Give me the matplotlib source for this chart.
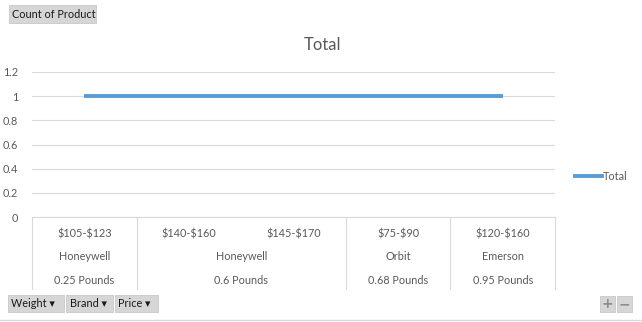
import matplotlib
matplotlib.use("Agg")
import matplotlib.pyplot as plt
from matplotlib.patches import Rectangle
from matplotlib.lines import Line2D

prices = ["$105-$123", "$140-$160", "$145-$170", "$75-$90", "$120-$160"]
brands = ["Honeywell", "Honeywell", "Honeywell", "Orbit", "Emerson"]
weights = ["0.25 Pounds", "0.6 Pounds", "0.6 Pounds", "0.68 Pounds", "0.95 Pounds"]
counts = [1, 1, 1, 1, 1]
yticks = [0, 0.2, 0.4, 0.6, 0.8, 1, 1.2]
ytick_labels = ["0", "0.2", "0.4", "0.6", "0.8", "1", "1.2"]
series_name = "Total"
field_buttons = ["Weight", "Brand", "Price"]
value_button = "Count of Product"

W, H = 642, 322
plt.rcParams['text.parse_math'] = False
plt.rcParams['font.family'] = ['Lato', 'DejaVu Sans']
fig = plt.figure(figsize=(W / 100, H / 100), dpi=100)
fig.patch.set_facecolor("white")

def fx(x):
    return x / W

def fy(y):
    return 1 - y / H

TXT = "#595959"
FS = 7.8
L, R, T, B = 32, 555, 72, 217
ax = fig.add_axes([fx(L), fy(B), fx(R) - fx(L), fy(T) - fy(B)])
n = len(prices)
xs = [i + 0.5 for i in range(n)]
ax.plot(xs, counts, color="#5B9BD5", lw=2.8, solid_capstyle="butt")
ax.set_xlim(0, n)
ax.set_ylim(0, 1.2)
ax.set_yticks(yticks)
ax.set_yticklabels(ytick_labels, fontsize=FS, color=TXT)
ax.set_xticks([])
ax.grid(axis="y", color="#d9d9d9", lw=0.8)
ax.set_axisbelow(True)
for s in ["top", "right", "left"]:
    ax.spines[s].set_visible(False)
ax.spines["bottom"].set_color("#d9d9d9")
ax.spines["bottom"].set_linewidth(0.8)
ax.tick_params(axis="y", length=0, pad=10)

fig.text(fx(323), fy(45), series_name, ha="center", va="center", fontsize=12, color=TXT)

catw = (R - L) / n
def cx(i):
    return L + catw * i

def add_vline(x, y0, y1):
    fig.add_artist(Line2D([fx(x), fx(x)], [fy(y0), fy(y1)], color="#d9d9d9", lw=0.8))

row_y = [234, 256, 280]
for i, p in enumerate(prices):
    fig.text(fx(cx(i + 0.5)), fy(row_y[0]), p, ha="center", va="center", fontsize=FS, color=TXT)

groups = []
start = 0
for i in range(1, n + 1):
    if i == n or (weights[i], brands[i]) != (weights[start], brands[start]):
        groups.append((start, i))
        start = i
for a, b in groups:
    fig.text(fx((cx(a) + cx(b)) / 2), fy(row_y[1]), brands[a], ha="center", va="center", fontsize=FS, color=TXT)
    fig.text(fx((cx(a) + cx(b)) / 2), fy(row_y[2]), weights[a], ha="center", va="center", fontsize=FS, color=TXT)
    add_vline(cx(a), B, 289)
add_vline(R, B, 289)

fig.add_artist(Line2D([fx(575), fx(602)], [fy(176), fy(176)], color="#5B9BD5", lw=2.8))
fig.text(fx(603), fy(176), series_name, ha="left", va="center", fontsize=FS, color=TXT)

def button(x0, y0, x1, y1, label, arrow=False):
    fig.add_artist(Rectangle((fx(x0), fy(y1)), fx(x1) - fx(x0), fy(y0) - fy(y1),
                             facecolor="#d6d6d6", edgecolor="#c8c8c8", lw=0.6))
    fig.text(fx(x0 + 3.5), fy((y0 + y1) / 2), label + (" \u25be" if arrow else ""),
             ha="left", va="center", fontsize=FS, color="#1a1a1a",
             family=['Lato', 'DejaVu Sans'])

button(9, 5, 96, 23, value_button)
bx = [(8, 64), (66, 113), (115, 158)]
for (x0, x1), lab in zip(bx, field_buttons):
    button(x0, 295, x1, 312, lab, arrow=True)

for (x0, x1), sym in zip([(600, 615), (617, 632)], ["+", "\u2212"]):
    fig.add_artist(Rectangle((fx(x0), fy(312)), fx(x1) - fx(x0), fy(296) - fy(312),
                             facecolor="#d6d6d6", edgecolor="#c8c8c8", lw=0.6))
    fig.text(fx((x0 + x1) / 2), fy(304), sym, ha="center", va="center", fontsize=10,
             color="#8c8c8c", fontweight="bold", family=['DejaVu Sans'])

fig.add_artist(Line2D([0, 1], [fy(320), fy(320)], color="#d9d9d9", lw=1))

fig.savefig("out.png", dpi=100, facecolor="white")
